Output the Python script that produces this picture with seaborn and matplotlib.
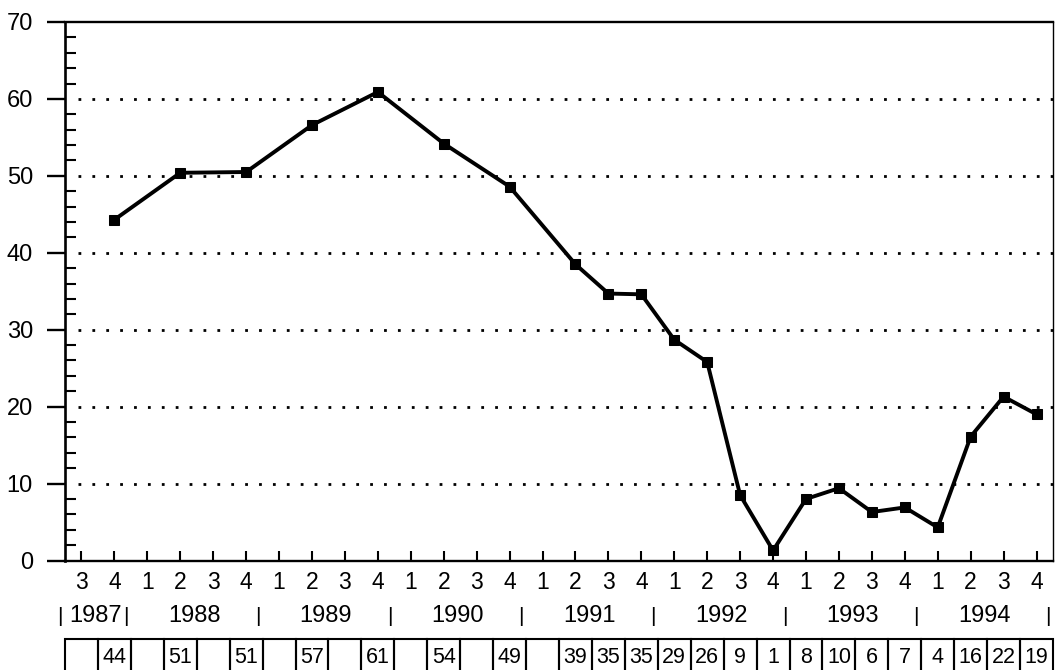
import numpy as np
import pandas as pd
import matplotlib
matplotlib.use("Agg")
import matplotlib.pyplot as plt
import matplotlib.transforms as mtransforms
from matplotlib.patches import Rectangle
from matplotlib.ticker import MultipleLocator
import seaborn as sns

# ---- data ----
years = [1987, 1987, 1988, 1988, 1988, 1988, 1989, 1989, 1989, 1989,
         1990, 1990, 1990, 1990, 1991, 1991, 1991, 1991, 1992, 1992,
         1992, 1992, 1993, 1993, 1993, 1993, 1994, 1994, 1994, 1994]
quarters = [3, 4, 1, 2, 3, 4, 1, 2, 3, 4, 1, 2, 3, 4, 1, 2, 3, 4, 1, 2,
            3, 4, 1, 2, 3, 4, 1, 2, 3, 4]
values = [None, 44.3, None, 50.4, None, 50.5, None, 56.6, None, 60.9,
          None, 54.2, None, 48.6, None, 38.5, 34.7, 34.6, 28.7, 25.8,
          8.5, 1.3, 8.0, 9.4, 6.3, 6.9, 4.3, 16.1, 21.3, 19.0]
table_labels = ["", "44", "", "51", "", "51", "", "57", "", "61",
                "", "54", "", "49", "", "39", "35", "35", "29", "26",
                "9", "1", "8", "10", "6", "7", "4", "16", "22", "19"]
year_names = ["1987", "1988", "1989", "1990", "1991", "1992", "1993", "1994"]
y_ticks = [0, 10, 20, 30, 40, 50, 60, 70]
grid_levels = [10, 20, 30, 40, 50, 60]

df = pd.DataFrame({"idx": np.arange(len(quarters)), "year": years,
                   "quarter": quarters, "value": values})
obs = df.dropna(subset=["value"])

sns.set_style("white")
plt.rcParams["font.family"] = ["Liberation Sans", "DejaVu Sans"]

fig = plt.figure(figsize=(10.55, 6.70), dpi=100)
ax = fig.add_axes([65 / 1055, (670 - 560.5) / 670, 988 / 1055, 538.5 / 670])

# dotted grid lines
for g in grid_levels:
    ax.axhline(g, xmin=13 / 988, xmax=1, color="black", lw=2.0,
               linestyle=(0, (1, 4)), zorder=1)

sns.lineplot(data=obs, x="idx", y="value", ax=ax, color="black",
             linewidth=2.8, marker="s", markersize=7,
             markeredgecolor="black", markerfacecolor="black", zorder=3)

ax.set_xlim(-0.5, 29.5)
ax.set_ylim(0, 70)
ax.set_xlabel("")
ax.set_ylabel("")

# spines
for side, lw in [("left", 1.9), ("bottom", 1.7), ("top", 1.7), ("right", 1.0)]:
    ax.spines[side].set_visible(True)
    ax.spines[side].set_color("black")
    ax.spines[side].set_linewidth(lw)

# y ticks
ax.set_yticks(y_ticks)
ax.set_yticklabels([])
ax.yaxis.set_minor_locator(MultipleLocator(2))
ax.tick_params(axis="y", which="major", direction="out", length=13,
               width=1.7, color="black", left=True)
ax.tick_params(axis="y", which="minor", direction="in", length=8,
               width=1.5, color="black", left=True)

ytrans = mtransforms.blended_transform_factory(ax.transAxes, ax.transData)
for t in y_ticks:
    ax.text(-32 / 988, t, str(t), transform=ytrans, ha="right",
            va="center_baseline", fontsize=17, color="black", clip_on=False)

# x ticks
ax.set_xticks(df["idx"])
ax.set_xticklabels([])
ax.tick_params(axis="x", which="major", direction="in", length=7,
               width=1.5, color="black", bottom=True)

trans = mtransforms.blended_transform_factory(ax.transData, ax.transAxes)

# quarter labels
for i, q in zip(df["idx"], df["quarter"]):
    ax.text(i, -0.0529, str(q), transform=trans, ha="center",
            va="baseline", fontsize=16.5, color="black", clip_on=False)

# year labels and separators
for y in year_names:
    sub = df[df["year"] == int(y)]["idx"]
    ax.text(sub.mean() - 0.08, -0.1142, y, transform=trans, ha="center",
            va="baseline", fontsize=17, color="black", clip_on=False)
bounds = [df[df["year"] == int(y)]["idx"].min() - 0.5 for y in year_names]
bounds.append(df["idx"].max() + 0.5)
for b in bounds:
    ax.text(b - 0.15, -0.1142, "|", transform=trans, ha="center",
            va="baseline", fontsize=15, color="black", clip_on=False)

# table row
for i, lab in zip(df["idx"], table_labels):
    ax.add_patch(Rectangle((i - 0.5, -0.215), 1.0, 0.215 - 0.1458,
                           transform=trans, fill=False, edgecolor="black",
                           lw=1.5, clip_on=False))
    if lab:
        ax.text(i, -0.1903, lab, transform=trans, ha="center",
                va="baseline", fontsize=15.5, color="black", clip_on=False)

fig.savefig("out.png", dpi=100)
